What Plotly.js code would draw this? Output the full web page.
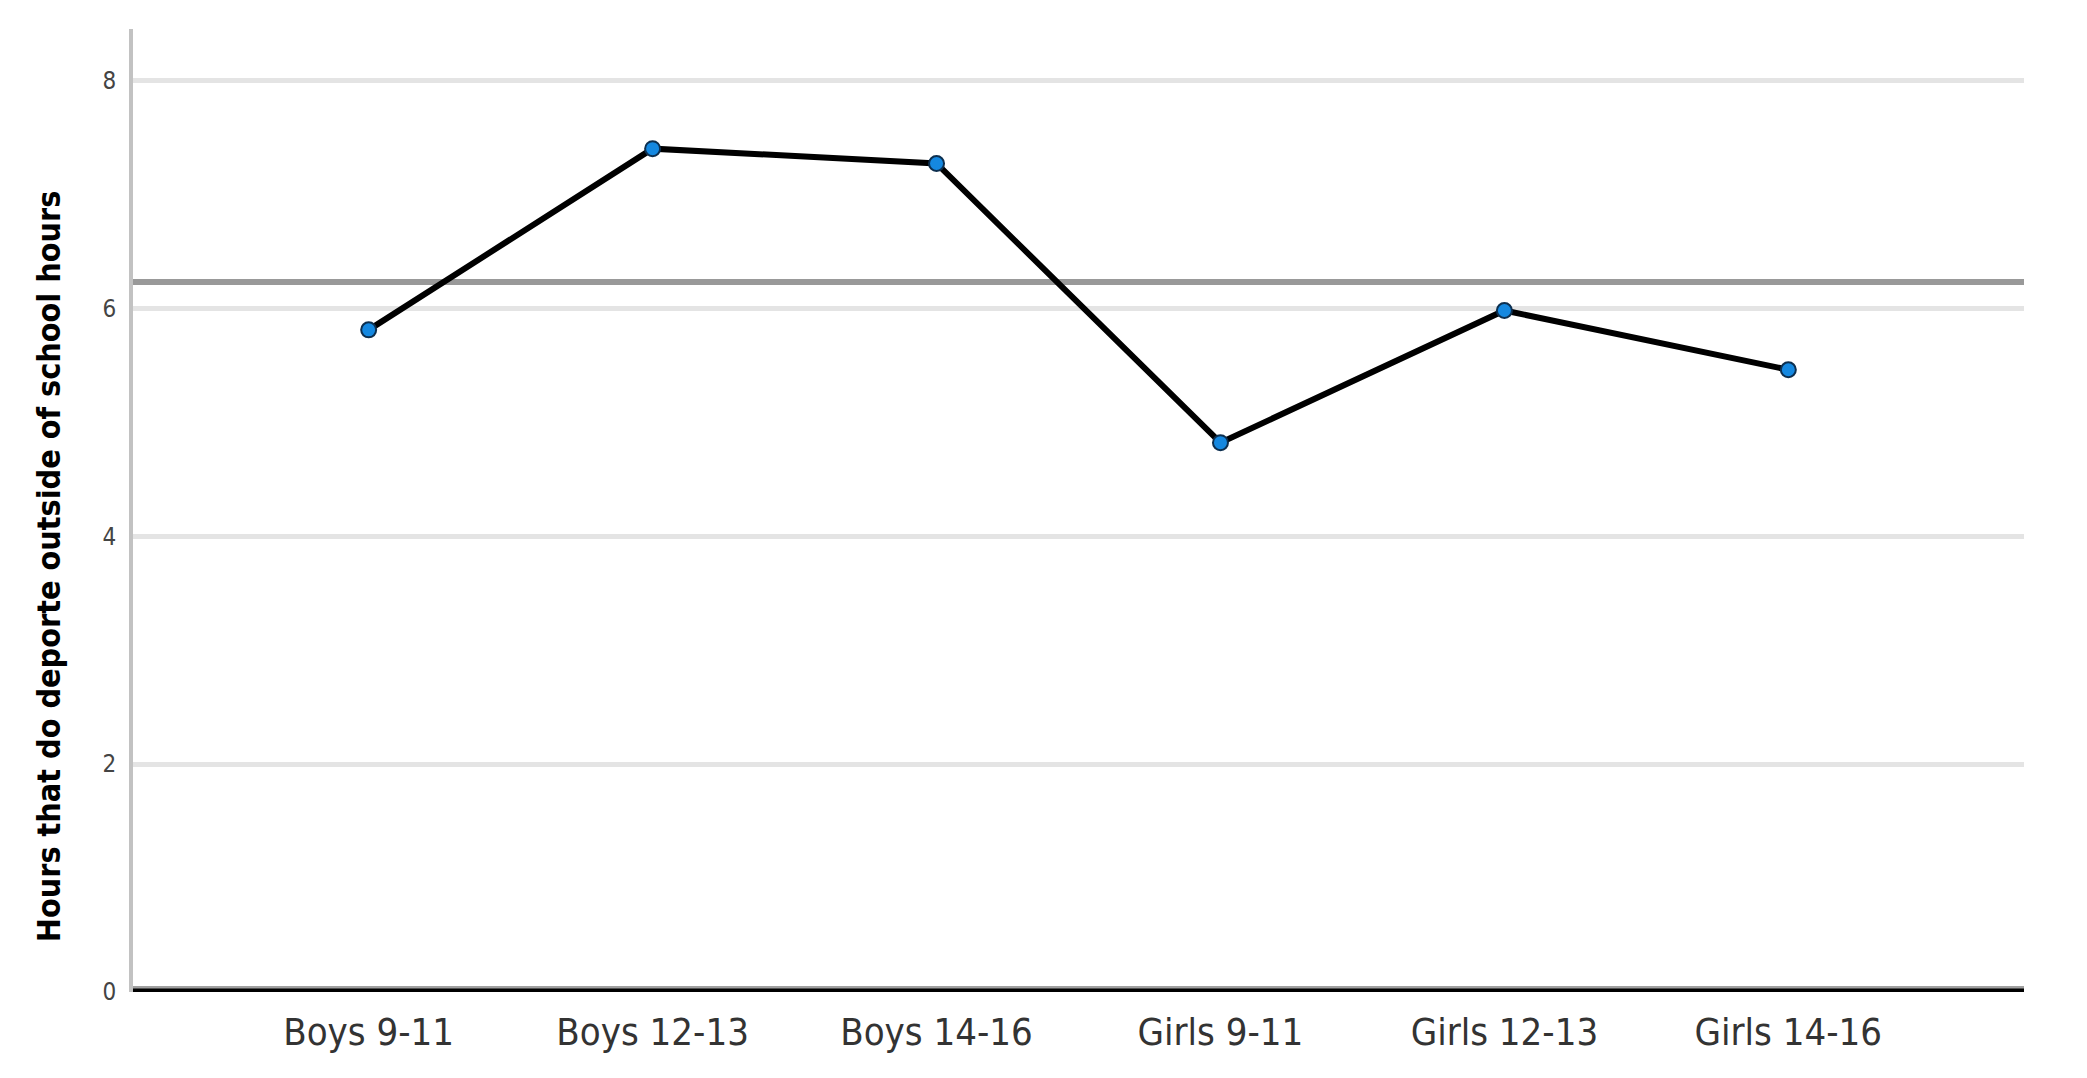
<!DOCTYPE html>
<html>
<head>
<meta charset="utf-8">
<script src="https://cdn.plot.ly/plotly-3.0.1.min.js"></script>
<style>
html, body { margin: 0; padding: 0; background: #ffffff; }
#chart { width: 2087px; height: 1078px; }
</style>
</head>
<body>
<div id="chart"></div>
<script>
// ---- data ----
var categories = ["Boys 9-11", "Boys 12-13", "Boys 14-16", "Girls 9-11", "Girls 12-13", "Girls 14-16"];
var hours = [5.81, 7.40, 7.27, 4.82, 5.98, 5.46];
var referenceValue = 6.23;
var yTickValues = [0, 2, 4, 6, 8];
var yTickLabels = ["0", "2", "4", "6", "8"];
var yTitle = "Hours that do deporte outside of school hours";

var FONT = "'DejaVu Sans Condensed', 'Liberation Sans Narrow', 'Liberation Sans', Arial, sans-serif";

var trace = {
  type: "scatter",
  mode: "lines+markers",
  x: categories,
  y: hours,
  line: { color: "#000000", width: 6 },
  marker: { color: "#1588e0", size: 15, line: { color: "#0d2f4f", width: 2 } },
  hoverinfo: "x+y",
  showlegend: false
};

var layout = {
  width: 2087,
  height: 1078,
  paper_bgcolor: "#ffffff",
  plot_bgcolor: "#ffffff",
  margin: { l: 133, r: 63, t: 29, b: 86, pad: 0 },
  font: { family: FONT, color: "#333333" },
  xaxis: {
    type: "category",
    range: [-0.83, 5.83],
    showgrid: false,
    zeroline: false,
    showline: false,
    ticks: "",
    ticklabelstandoff: 14,
    tickfont: { family: FONT, size: 38, color: "#333333" },
    fixedrange: true
  },
  yaxis: {
    range: [0, 8.45],
    tickvals: yTickValues,
    ticktext: yTickLabels,
    showgrid: true,
    gridcolor: "#e4e4e4",
    gridwidth: 5,
    zeroline: false,
    showline: true,
    linecolor: "#c2c2c2",
    linewidth: 4,
    ticks: "",
    ticklabelstandoff: 8,
    tickfont: { family: FONT, size: 24, color: "#444444" },
    fixedrange: true
  },
  shapes: [
    { type: "line", xref: "paper", yref: "y", x0: 0, x1: 1, y0: referenceValue, y1: referenceValue,
      layer: "between", line: { color: "#999999", width: 6 } },
    { type: "line", xref: "paper", yref: "y", x0: 0, x1: 1, y0: 0, y1: 0,
      layer: "above", line: { color: "#a0a0a0", width: 12 } },
    { type: "line", xref: "paper", yref: "y", x0: 0, x1: 1, y0: 0, y1: 0,
      layer: "above", line: { color: "#000000", width: 7 } }
  ],
  annotations: [
    { text: yTitle, xref: "paper", yref: "paper", x: -0.044, y: 0.442,
      xanchor: "center", yanchor: "middle", textangle: -90, showarrow: false,
      font: { family: FONT, size: 32, color: "#000000", weight: "bold" } }
  ]
};

Plotly.newPlot("chart", [trace], layout, { displayModeBar: false, staticPlot: true });
</script>
</body>
</html>
